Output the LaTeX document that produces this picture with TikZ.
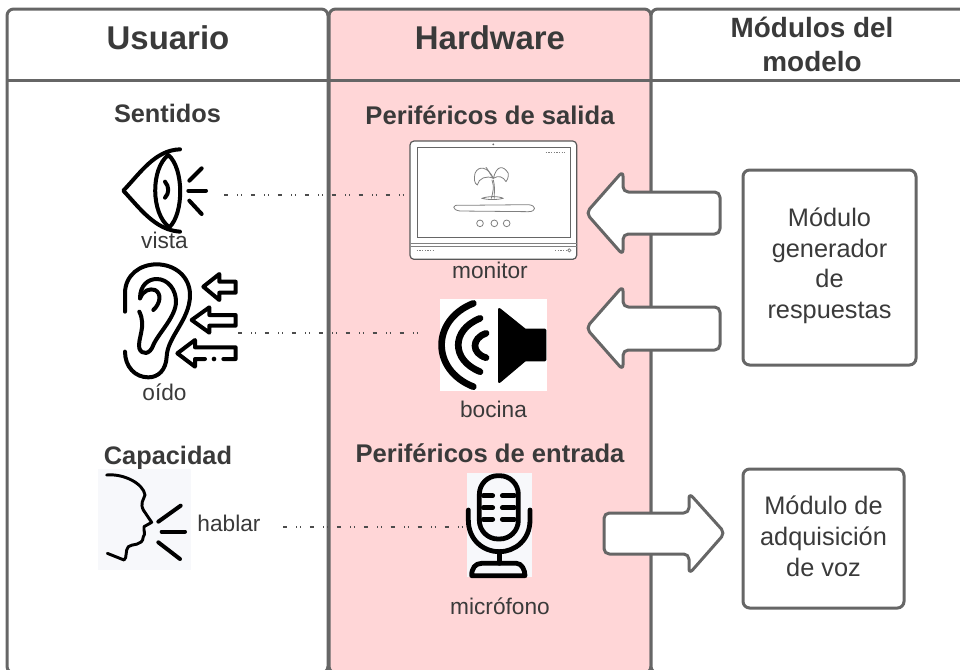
\documentclass[tikz,border=0pt]{standalone}
\usepackage{fontspec}
\setmainfont{Liberation Sans}
\definecolor{frameline}{HTML}{666666}
\definecolor{inktext}{HTML}{3A3A3A}
\definecolor{panelpink}{HTML}{FFD6D7}
\definecolor{iconbg}{HTML}{F7F8FB}
\tikzset{
  px/.style={x=0.75pt,y=-0.75pt},
  panel/.style={draw=frameline,line width=2.25pt,rounded corners=5pt},
  modulebox/.style={draw=frameline,line width=2.25pt,fill=white,rounded corners=5pt},
  blockarrow/.style={draw=frameline,line width=2.25pt,fill=white,rounded corners=4pt,line join=round},
  headbig/.style={anchor=base,inner sep=0pt,text=inktext,font=\bfseries\fontsize{24.7pt}{29pt}\selectfont},
  headmid/.style={anchor=base,inner sep=0pt,text=inktext,font=\bfseries\fontsize{20.9pt}{25pt}\selectfont},
  headsub/.style={anchor=base,inner sep=0pt,text=inktext,font=\bfseries\fontsize{19pt}{23pt}\selectfont},
  headper/.style={anchor=base,inner sep=0pt,text=inktext,font=\bfseries\fontsize{19.2pt}{24pt}\selectfont},
  iconlabel/.style={anchor=base,inner sep=0pt,text=inktext,font=\fontsize{17pt}{20pt}\selectfont},
  boxlabel/.style={anchor=base,inner sep=0pt,text=inktext,font=\fontsize{19pt}{23pt}\selectfont},
  iconline/.style={draw=black,line width=3pt,line cap=round,line join=round},
  micline/.style={draw=black,line width=3.6pt,line cap=round,line join=round},
  iconthin/.style={draw=black,line width=2.2pt,line cap=round,line join=round},
  sketch/.style={draw=black!50,line width=0.6pt,line cap=round,line join=round},
  hidden/.style={inner sep=0pt,outer sep=0pt},
  linkline/.style={draw=black!70,line width=0.8pt,dash pattern=on 3.2pt off 6.8pt on .8pt off 2pt on .8pt off 6.6pt},
}
\begin{document}
\begin{tikzpicture}[px]
\useasboundingbox (0,0) rectangle (960,669);
\clip (0,0) rectangle (960,669);
\fill[white] (0,0) rectangle (960,669);

% columns
\draw[panel,fill=white] (7,9) rectangle (328,673);
\draw[panel,fill=panelpink] (329,9) rectangle (651,673);
\draw[panel,fill=white] (651,9) rectangle (975,673);
\draw[frameline,line width=2.25pt] (7,80.5) -- (975,80.5);

% headers
\node[headbig] (husuario) at (168,49) {Usuario};
\node[headbig] (hhardware) at (490,49) {Hardware};
\node[headmid] (hmod1) at (812,37) {Módulos del};
\node[headmid] (hmod2) at (812,71) {modelo};
\node[headsub] (sentidos) at (167.5,122) {Sentidos};
\node[headper] (persal) at (490,124.5) {Periféricos de salida};
\node[headsub] (capacidad) at (168,464) {Capacidad};
\node[headper] (perent) at (490,462) {Periféricos de entrada};

% icon frames used as connector ends
\node[hidden,minimum width=102*0.75pt,minimum height=92*0.75pt] (eye) at (173,195) {};
\node[hidden,minimum width=116*0.75pt,minimum height=140*0.75pt] (ear) at (180,333) {};
\node[hidden,minimum width=167*0.75pt,minimum height=118*0.75pt] (monitor) at (493.5,200) {};
\node[hidden,minimum width=122*0.75pt,minimum height=92*0.75pt] (speaker) at (486,344.5) {};
\node[hidden,minimum width=65*0.75pt,minimum height=104*0.75pt] (mic) at (499.5,525.5) {};
\coordinate (hablarend) at (283,527);

% monitor
\begin{scope}[shift={(400,130)},x=0.25pt,y=-0.25pt]
  \draw[fill=white,draw=black!65,line width=0.9pt,rounded corners=3pt] (30,33) rectangle (530,388);
  \draw[draw=black!60,line width=0.7pt] (52,52) rectangle (510,322);
  \draw[sketch] (33,340) -- (530,340);
  \draw[sketch] (33,348) -- (530,348);
  \fill[black!60] (280,43) circle (3);
  \draw[sketch] (180,226) .. controls (155,222) and (155,240) .. (180,243) -- (385,245) .. controls (410,245) and (410,226) .. (385,224) -- cycle;
  \draw[sketch] (240,280) circle (10);
  \draw[sketch] (283,280) circle (10);
  \draw[sketch] (320,280) circle (10);
  \draw[sketch] (280,150) .. controls (286,170) and (282,190) .. (283,205);
  \draw[sketch] (276,150) .. controls (284,170) and (278,190) .. (274,205);
  \draw[sketch] (245,205) .. controls (265,198) and (295,198) .. (310,205) .. controls (290,210) and (265,210) .. (245,205);
  \draw[sketch] (280,145) .. controls (265,110) and (235,105) .. (225,130) .. controls (222,145) and (222,160) .. (232,165) .. controls (235,145) and (260,135) .. (280,145);
  \draw[sketch] (280,145) .. controls (290,105) and (310,105) .. (325,130) .. controls (325,145) and (322,150) .. (318,155) .. controls (310,140) and (295,135) .. (280,145);
  \draw[sketch] (280,145) .. controls (265,125) and (262,115) .. (258,112);
  \draw[draw=black!50,line width=0.7pt,dash pattern=on 1pt off 1pt] (50,361) -- (100,361);
  \draw[draw=black!50,line width=0.7pt,dash pattern=on 1pt off 1pt] (465,362) -- (500,362);
  \draw[sketch] (508,361) circle (5);
  \draw[draw=black!50,line width=0.7pt,dash pattern=on 1pt off 1pt] (437,66) -- (495,66);
\end{scope}
\node[iconlabel] (lmonitor) at (490,278) {monitor};

% eye
\begin{scope}[shift={(90,130)},x=0.25pt,y=-0.25pt]
  \draw[iconline] (270,58) .. controls (195,60) and (150,130) .. (100,182) .. controls (150,235) and (195,300) .. (270,305);
  \draw[iconline] (235,75) .. controls (182,115) and (182,250) .. (238,292) .. controls (282,250) and (282,115) .. (235,75);
  \draw[iconline] (225,155) .. controls (238,170) and (238,190) .. (225,203);
  \draw[iconline] (298,152) -- (335,115);
  \draw[iconline] (295,182) -- (348,182);
  \draw[iconline] (298,212) -- (335,252);
\end{scope}
\node[iconlabel] (lvista) at (164.5,248) {vista};

% ear
\begin{scope}[shift={(90,130)},x=0.25pt,y=-0.25pt]
  \draw[iconline] (105,545) -- (105,490) .. controls (105,435) and (150,403) .. (200,403) .. controls (255,403) and (300,440) .. (300,495) .. controls (300,570) and (232,620) .. (230,680) .. controls (228,720) and (205,742) .. (175,742) .. controls (135,742) and (105,710) .. (105,665);
  \draw[iconline] (150,505) .. controls (150,465) and (175,447) .. (200,447) .. controls (235,447) and (258,480) .. (258,515) .. controls (258,560) and (205,610) .. (190,645) .. controls (180,675) and (155,675) .. (148,655) .. controls (142,625) and (170,590) .. (148,545);
  \draw[iconline] (150,505) .. controls (160,480) and (180,475) .. (195,480) .. controls (215,490) and (212,520) .. (190,540);
  \draw[iconline] (340,470) -- (388,432) -- (388,455) -- (437,455) -- (437,488) -- (388,488) -- (388,510) -- cycle;
  \draw[iconline] (305,570) -- (358,532) -- (358,555) -- (437,555) -- (437,587) -- (358,587) -- (358,608) -- cycle;
  \draw[iconline] (345,687) -- (315,687) -- (315,710) -- (262,670) -- (315,630) -- (315,652) -- (437,652) -- (437,687) -- (400,687);
  \fill[black] (372,687) circle (7);
\end{scope}
\node[iconlabel] (loido) at (164.5,400) {oído};

% speaker
\begin{scope}[shift={(420,290)},x=0.25pt,y=-0.25pt]
  \fill[white] (60,27) rectangle (380,302);
  \draw[line width=5pt,line cap=round,draw=black] (160,40) .. controls (33,90) and (33,240) .. (160,290);
  \draw[line width=5pt,line cap=round,draw=black] (180,85) .. controls (93,120) and (93,210) .. (180,245);
  \draw[line width=5pt,line cap=round,draw=black] (198,130) .. controls (154,145) and (154,190) .. (198,203);
  \fill[black,draw=black,line width=2pt,line join=round] (238,58) -- (315,120) -- (375,120) -- (375,210) -- (315,210) -- (238,275) -- cycle;
\end{scope}
\node[iconlabel] (lbocina) at (493.5,417) {bocina};

% talking head
\begin{scope}[shift={(90,465)},x=0.25pt,y=-0.25pt]
  \fill[iconbg] (25,12) rectangle (302,315);
  \draw[iconthin] (50,30) .. controls (100,25) and (160,55) .. (165,90) .. controls (160,105) and (150,115) .. (160,135) -- (185,172) -- (162,185) .. controls (160,200) and (168,205) .. (160,215) .. controls (158,245) and (125,235) .. (115,245) .. controls (105,255) and (112,280) .. (102,285) -- (52,265);
  \draw[iconline] (205,170) -- (272,122);
  \draw[iconline] (215,200) -- (285,200);
  \draw[iconline] (205,232) -- (270,282);
\end{scope}
\node[iconlabel] (lhablar) at (229,531) {hablar};

% microphone
\begin{scope}[shift={(270,465)},x=0.25pt,y=-0.25pt]
  \fill[iconbg] (590,25) rectangle (785,337);
  \draw[micline,rounded corners=14pt] (628,32) rectangle (745,222);
  \draw[micline] (640,92) -- (668,92) (640,128) -- (668,128) (640,163) -- (668,163);
  \draw[micline] (697,92) -- (733,92) (697,128) -- (733,128) (697,163) -- (733,163);
  \draw[micline] (595,135) -- (595,165) .. controls (595,225) and (640,260) .. (688,260) .. controls (735,260) and (780,225) .. (780,165) -- (780,135);
  \draw[micline] (688,260) -- (688,295);
  \draw[micline] (605,332) .. controls (605,310) and (615,295) .. (635,295) -- (740,295) .. controls (755,295) and (765,315) .. (765,332) -- cycle;
\end{scope}
\node[iconlabel] (lmic) at (500,614) {micrófono};

% dotted links
\draw[linkline] (eye.east) -- (eye.east -| monitor.west);
\draw[linkline] (ear.east) -- (ear.east -| speaker.west);
\draw[linkline] (hablarend) -- (hablarend -| mic.west);

% block arrows
\draw[blockarrow] (720,192) -- (623,192) -- (623,171) -- (586,213) -- (623,255) -- (623,234) -- (720,234) -- cycle;
\draw[blockarrow] (720,307) -- (623,307) -- (623,286) -- (586,328) -- (623,370) -- (623,350) -- (720,350) -- cycle;
\draw[blockarrow] (604,513) -- (689,513) -- (689,493) -- (725,533) -- (689,574) -- (689,554) -- (604,554) -- cycle;

% module boxes
\node[modulebox,minimum width=173*0.75pt,minimum height=195*0.75pt,inner sep=0pt] (mgen) at (829.5,267.5) {};
\node[boxlabel] at (829.5,226) {Módulo};
\node[boxlabel] at (829.5,257) {generador};
\node[boxlabel] at (829.5,287) {de};
\node[boxlabel] at (829.5,318) {respuestas};
\node[modulebox,minimum width=161*0.75pt,minimum height=139*0.75pt,inner sep=0pt] (madq) at (823.5,538.5) {};
\node[boxlabel] at (823.5,514) {Módulo de};
\node[boxlabel] at (823.5,545) {adquisición};
\node[boxlabel] at (823.5,576) {de voz};
\end{tikzpicture}
\end{document}
